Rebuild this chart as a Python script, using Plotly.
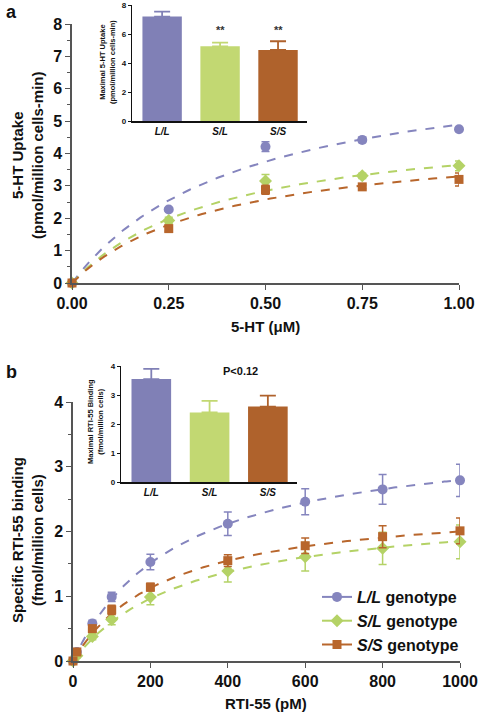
import numpy as np
import plotly.graph_objects as go

W, H = 481, 715
FONT = "Arial, 'Liberation Sans', sans-serif"

genotypes = ["L/L", "S/L", "S/S"]
colors = ["#8585BE", "#B4D266", "#B8662C"]
bar_colors = ["#8080B6", "#C2D872", "#AF622C"]
symbols = ["circle", "diamond", "square"]

# Panel a: 5-HT uptake
a_x = [0, 0.25, 0.5, 0.75, 1.0]
a_LL = [0, 2.27, 4.21, 4.42, 4.75]
a_LL_err = [0, 0.05, 0.15, 0.08, 0.05]
a_SL = [0, 1.93, 3.15, 3.31, 3.62]
a_SL_err = [0, 0.1, 0.2, 0.08, 0.15]
a_SS = [0, 1.68, 2.88, 2.97, 3.2]
a_SS_err = [0, 0.08, 0.14, 0.06, 0.2]
a_vmax_fit = [7.05, 5.07, 4.54]
a_km_fit = [0.44, 0.39, 0.38]
a_bar = [7.2, 5.15, 4.9]
a_bar_err = [0.35, 0.25, 0.6]

# Panel b: RTI-55 binding
b_x = [0, 10, 50, 100, 200, 400, 600, 800, 1000]
b_LL = [0, 0.14, 0.58, 0.99, 1.53, 2.12, 2.46, 2.65, 2.79]
b_LL_err = [0, 0.03, 0.05, 0.07, 0.12, 0.18, 0.2, 0.23, 0.25]
b_SL = [0, 0.08, 0.38, 0.64, 0.99, 1.39, 1.61, 1.74, 1.84]
b_SL_err = [0, 0.03, 0.05, 0.08, 0.12, 0.17, 0.22, 0.25, 0.26]
b_SS = [0, 0.14, 0.5, 0.79, 1.14, 1.55, 1.78, 1.92, 2.01]
b_SS_err = [0, 0.03, 0.05, 0.07, 0.06, 0.09, 0.12, 0.17, 0.2]
b_bmax_fit = [3.55, 2.4, 2.48]
b_kd_fit = [270, 297, 240]
b_bar = [3.55, 2.4, 2.6]
b_bar_err = [0.35, 0.4, 0.38]


def px(x0, x1):
    return [x0 / W, x1 / W]


def py(top, bottom):
    return [1 - bottom / H, 1 - top / H]


fig = go.Figure()

a_series = [(a_LL, a_LL_err), (a_SL, a_SL_err), (a_SS, a_SS_err)]
b_series = [(b_LL, b_LL_err), (b_SL, b_SL_err), (b_SS, b_SS_err)]

ca = np.linspace(0, 1, 120)
cb = np.linspace(0, 1000, 200)
for i in range(3):
    fig.add_trace(go.Scatter(
        x=ca, y=a_vmax_fit[i] * ca / (a_km_fit[i] + ca), mode="lines",
        line=dict(color=colors[i], width=2, dash="dash"),
        xaxis="x", yaxis="y", showlegend=False, hoverinfo="skip"))
    fig.add_trace(go.Scatter(
        x=cb, y=b_bmax_fit[i] * cb / (b_kd_fit[i] + cb), mode="lines",
        line=dict(color=colors[i], width=2, dash="dash"),
        xaxis="x2", yaxis="y2", showlegend=False, hoverinfo="skip"))

for i in range(3):
    v, e = a_series[i]
    fig.add_trace(go.Scatter(
        x=a_x, y=v, mode="markers",
        marker=dict(color=colors[i], symbol=symbols[i], size=10 if i != 2 else 9),
        error_y=dict(type="data", array=e, color=colors[i], thickness=1.5, width=4),
        xaxis="x", yaxis="y", showlegend=False, cliponaxis=False))
    v, e = b_series[i]
    fig.add_trace(go.Scatter(
        x=b_x, y=v, mode="markers",
        marker=dict(color=colors[i], symbol=symbols[i], size=10 if i != 2 else 9),
        error_y=dict(type="data", array=e, color=colors[i], thickness=1.5, width=4),
        xaxis="x2", yaxis="y2", showlegend=False, cliponaxis=False))

# legend entries
for i in range(3):
    fig.add_trace(go.Scatter(
        x=[None], y=[None], mode="lines+markers",
        name="<b><i>%s</i> genotype</b>" % genotypes[i],
        marker=dict(color=colors[i], symbol=symbols[i], size=10 if i != 2 else 9),
        line=dict(color=colors[i], width=2),
        xaxis="x2", yaxis="y2"))

# inset bars
for i in range(3):
    fig.add_trace(go.Bar(
        x=[i], y=[a_bar[i]], marker=dict(color=bar_colors[i], line=dict(width=0)),
        width=0.68,
        error_y=dict(type="data", array=[a_bar_err[i]], arrayminus=[0],
                     color=bar_colors[i], thickness=1.8, width=8),
        xaxis="x3", yaxis="y3", showlegend=False))
    fig.add_trace(go.Bar(
        x=[i], y=[b_bar[i]], marker=dict(color=bar_colors[i], line=dict(width=0)),
        width=0.68,
        error_y=dict(type="data", array=[b_bar_err[i]], arrayminus=[0],
                     color=bar_colors[i], thickness=1.8, width=8),
        xaxis="x4", yaxis="y4", showlegend=False))

ax_common = dict(showgrid=False, zeroline=False, showline=True, linecolor="#555",
                 linewidth=1.5, ticks="outside", tickcolor="#555", ticklen=5,
                 automargin=False,
                 tickfont=dict(family=FONT, size=16, color="#111", weight="bold"))

inset_y = dict(showgrid=False, zeroline=False, showline=True, linecolor="#111",
               linewidth=1.3, ticks="outside", tickcolor="#111", ticklen=3,
               automargin=False,
               tickfont=dict(family=FONT, size=8, color="#111", weight="bold"))
inset_x = dict(showgrid=False, zeroline=False, showline=True, linecolor="#111",
               linewidth=1.5, ticks="", automargin=False,
               tickvals=[0, 1, 2], ticktext=["<i>L/L</i>", "<i>S/L</i>", "<i>S/S</i>"],
               tickfont=dict(family=FONT, size=10, color="#111", weight="bold"))

fig.update_layout(
    width=W, height=H, margin=dict(l=0, r=0, t=0, b=0, pad=0, autoexpand=False),
    paper_bgcolor="white", plot_bgcolor="rgba(0,0,0,0)",
    font=dict(family=FONT, color="#111"),
    xaxis=dict(domain=px(72, 459), range=[0, 1], tickvals=[0, 0.25, 0.5, 0.75, 1.0],
               ticktext=["0.00", "0.25", "0.50", "0.75", "1.00"], anchor="y", **ax_common),
    yaxis=dict(domain=py(24, 283), range=[0, 8], dtick=1, anchor="x",
               minor=dict(dtick=0.5, ticks="outside", ticklen=3, tickcolor="#555"),
               **ax_common),
    xaxis2=dict(domain=px(73, 460), range=[0, 1000], dtick=200, anchor="y2", **ax_common),
    yaxis2=dict(domain=py(402, 661), range=[0, 4], dtick=1, anchor="x2",
                minor=dict(dtick=0.5, ticks="outside", ticklen=3, tickcolor="#555"),
                **ax_common),
    xaxis3=dict(domain=px(132, 307), range=[-0.52, 2.5], anchor="y3", **inset_x),
    yaxis3=dict(domain=py(5, 121), range=[0, 8], dtick=2, anchor="x3", **inset_y),
    xaxis4=dict(domain=px(121, 297), range=[-0.52, 2.5], anchor="y4", **inset_x),
    yaxis4=dict(domain=py(366, 482), range=[0, 4], dtick=1, anchor="x4", **inset_y),
    legend=dict(x=464 / W, xanchor="right", y=1 - 580 / H, yanchor="top",
                bgcolor="rgba(0,0,0,0)", font=dict(family=FONT, size=16, color="#111"),
                itemwidth=30, tracegroupgap=0),
    bargap=0.3,
)

ann = [
    dict(text="<b>a</b>", x=4 / W, y=1 - 0 / H, xanchor="left", yanchor="top",
         font=dict(size=18)),
    dict(text="<b>b</b>", x=4 / W, y=1 - 360 / H, xanchor="left", yanchor="top",
         font=dict(size=18)),
    dict(text="<b>5-HT Uptake<br>(pmol/million cells-min)</b>", x=27 / W, y=1 - 155 / H,
         textangle=-90, font=dict(size=15), xanchor="center", yanchor="middle"),
    dict(text="<b>5-HT (\u03bcM)</b>", x=265 / W, y=1 - 326 / H, font=dict(size=15),
         xanchor="center", yanchor="middle"),
    dict(text="<b>Specific RTI-55 binding<br>(fmol/million cells)</b>", x=27 / W,
         y=1 - 540 / H, textangle=-90, font=dict(size=15), xanchor="center", yanchor="middle"),
    dict(text="<b>RTI-55 (pM)</b>", x=266 / W, y=1 - 703 / H, font=dict(size=15),
         xanchor="center", yanchor="middle"),
    dict(text="<b>Maximal 5-HT Uptake<br>(pmol/million cells-min)</b>", x=108 / W,
         y=1 - 62 / H, textangle=-90, font=dict(size=7.5), xanchor="center", yanchor="middle"),
    dict(text="<b>Maximal RTI-55 Binding<br>(fmol/million cells)</b>", x=95 / W,
         y=1 - 422 / H, textangle=-90, font=dict(size=7.5), xanchor="center", yanchor="middle"),
    dict(text="<b>P<0.12</b>", x=240 / W, y=1 - 371 / H, font=dict(size=11),
         xanchor="center", yanchor="middle"),
]
for i in (1, 2):
    ann.append(dict(text="<b>**</b>", x=i, y=6.25, xref="x3", yref="y3",
                    font=dict(size=11, color="#333"), showarrow=False,
                    xanchor="center", yanchor="middle"))
for a in ann:
    a.setdefault("xref", "paper")
    a.setdefault("yref", "paper")
    a["showarrow"] = False
    a["font"]["family"] = FONT
    a["font"].setdefault("color", "#111")
fig.update_layout(annotations=ann)

fig.write_html(
    "out.html",
    config={"displayModeBar": False},
    post_script="document.body.style.margin='0';document.body.style.padding='0';"
                "document.body.style.overflow='hidden';",
)
